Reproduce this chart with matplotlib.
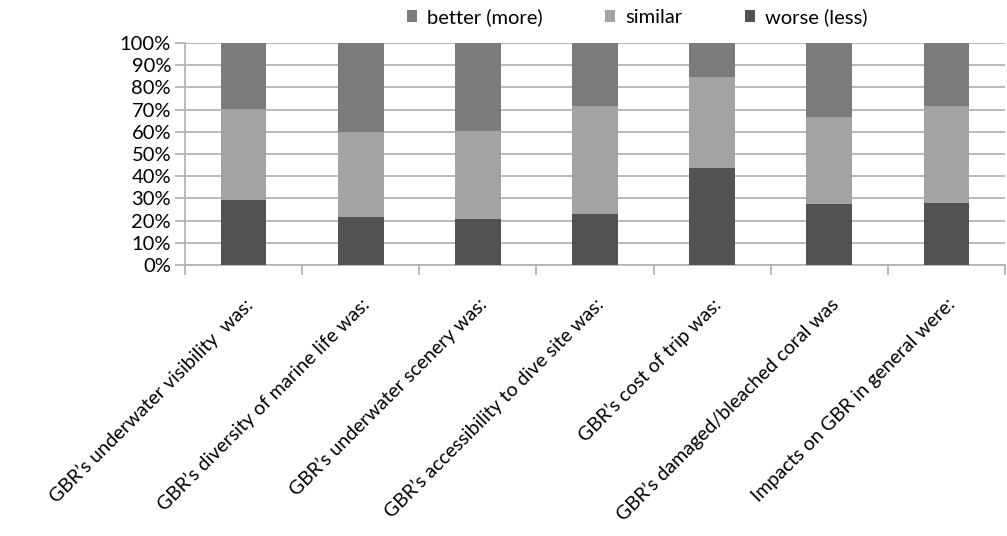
import matplotlib
matplotlib.use("Agg")
import matplotlib.pyplot as plt
import numpy as np

categories = [
    "GBR\u2019s underwater visibility  was:",
    "GBR\u2019s diversity of marine life was:",
    "GBR\u2019s underwater scenery was:",
    "GBR\u2019s accessibility to dive site was:",
    "GBR\u2019s cost of trip was:",
    "GBR\u2019s damaged/bleached coral was",
    "Impacts on GBR in general were:",
]
worse = [29.3, 21.8, 20.6, 22.9, 43.6, 27.5, 28.0]
similar = [41.0, 38.2, 39.6, 48.5, 40.9, 39.0, 43.4]
better = [29.7, 40.0, 39.8, 28.6, 15.5, 33.5, 28.6]
series_names = ["better (more)", "similar", "worse (less)"]
colors = {"better (more)": "#7b7b7b", "similar": "#a3a3a3", "worse (less)": "#525252"}

plt.rcParams['font.family'] = ['Lato', 'DejaVu Sans']

fig = plt.figure(figsize=(10.07, 5.36), dpi=100)
ax = fig.add_axes([0.1837, 0.5056, 0.8143, 0.4142])

x = np.arange(len(categories))
w = 0.39
worse_a = np.array(worse)
sim_a = np.array(similar)
bet_a = np.array(better)
b_w = ax.bar(x, worse_a, w, color=colors["worse (less)"], label="worse (less)", zorder=3)
b_s = ax.bar(x, sim_a, w, bottom=worse_a, color=colors["similar"], label="similar", zorder=3)
b_b = ax.bar(x, bet_a, w, bottom=worse_a + sim_a, color=colors["better (more)"], label="better (more)", zorder=3)

ax.set_xlim(-0.5, len(categories) - 0.5)
ax.set_ylim(0, 100)
yt = np.arange(0, 101, 10)
ax.set_yticks(yt)
ax.set_yticklabels([f"{v}%" for v in yt], fontsize=14.5, color="#000000")
ax.yaxis.grid(True, color="#b4b4b4", linewidth=1.3, zorder=0)
ax.tick_params(axis='y', length=7, color="#b4b4b4", width=1.3, pad=3)

ax.set_xticks(x)
ax.set_xticklabels(categories, rotation=45, ha='right', va='top', rotation_mode='anchor',
                   fontsize=14, color="#000000")
ax.tick_params(axis='x', which='major', length=0, pad=22)
ax.set_xticks(np.arange(-0.5, len(categories), 1.0), minor=True)
ax.tick_params(axis='x', which='minor', length=7, color="#b4b4b4", width=1.3, direction='out')

for s in ['top', 'right']:
    ax.spines[s].set_visible(False)
for s in ['left', 'bottom']:
    ax.spines[s].set_color("#b4b4b4")
    ax.spines[s].set_linewidth(1.3)

handles = [b_b, b_s, b_w]
leg = fig.legend(handles, series_names, loc='center', bbox_to_anchor=(0.633, 0.968),
                 ncol=3, frameon=False, fontsize=14.5, handlelength=0.5, handleheight=0.5,
                 columnspacing=3.1, handletextpad=0.5)

fig.savefig("out.png", dpi=100)
